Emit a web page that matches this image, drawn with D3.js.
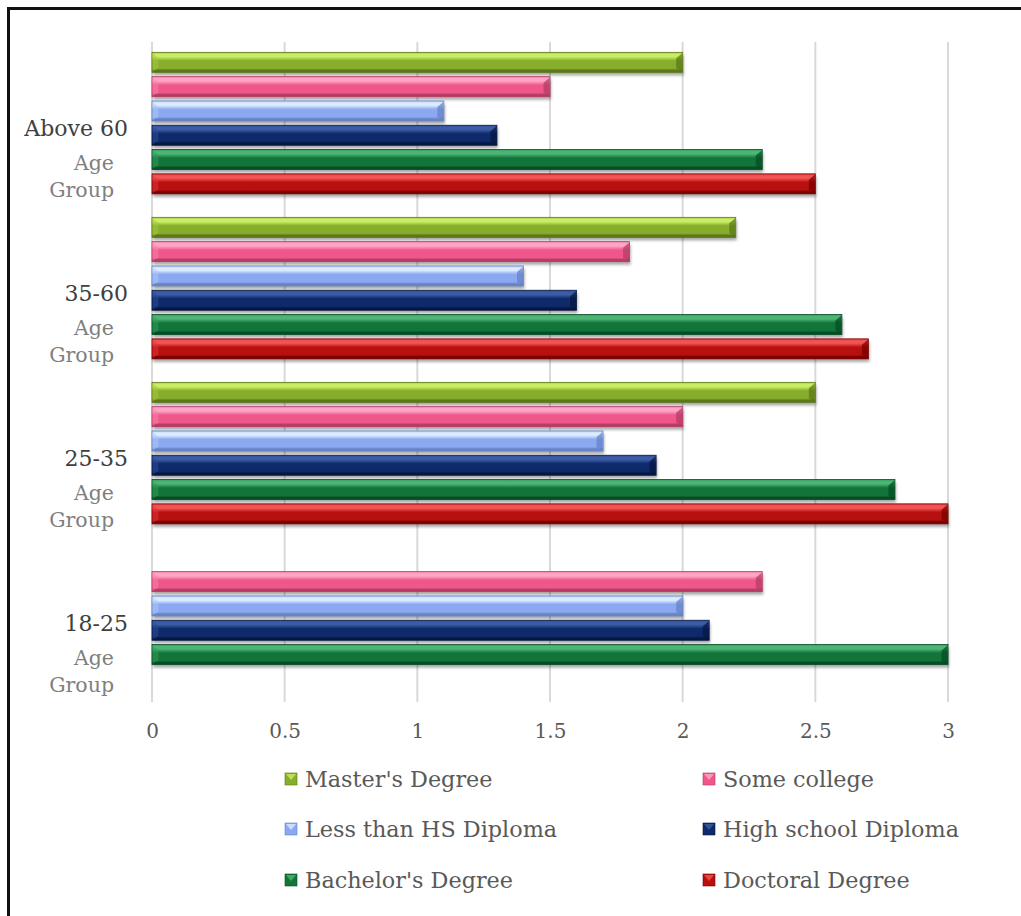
<!DOCTYPE html>
<html>
<head>
<meta charset="utf-8">
<script src="https://cdn.jsdelivr.net/npm/d3@7"></script>
<style>
  html, body { margin: 0; padding: 0; background: #fff; }
  svg { display: block; }
  text { font-family: "DejaVu Serif", "Liberation Serif", serif; }
</style>
</head>
<body>
<div id="chart"></div>
<script>
// Age groups, listed top to bottom
const ageGroups = ["Above 60", "35-60", "25-35", "18-25"];
const groupSuffix = ["Age", "Group"];

// Education levels (series), listed top to bottom inside each group
const seriesNames = [
  "Master's Degree",
  "Some college",
  "Less than HS Diploma",
  "High school Diploma",
  "Bachelor's Degree",
  "Doctoral Degree"
];

// Values per series, one per age group (null = no bar)
const mastersValues     = [2.0, 2.2, 2.5, null];
const someCollegeValues = [1.5, 1.8, 2.0, 2.3];
const lessThanHSValues  = [1.1, 1.4, 1.7, 2.0];
const highSchoolValues  = [1.3, 1.6, 1.9, 2.1];
const bachelorsValues   = [2.3, 2.6, 2.8, 3.0];
const doctoralValues    = [2.5, 2.7, 3.0, null];

const seriesValues = [
  mastersValues, someCollegeValues, lessThanHSValues,
  highSchoolValues, bachelorsValues, doctoralValues
];

const xTicks = [0, 0.5, 1, 1.5, 2, 2.5, 3];

// Bevel palette per series: rim, highlight, base, shade
const palette = [
  { rim: "#a2c83e", hi: "#c9ee64", base: "#87ad2d", dark: "#5c7818" },
  { rim: "#f77fa8", hi: "#ffa6c8", base: "#ef578a", dark: "#b53b64" },
  { rim: "#adc6f8", hi: "#dcebff", base: "#8aa9f0", dark: "#6683c8" },
  { rim: "#2a4b94", hi: "#3c5ca6", base: "#0e2a6b", dark: "#051842" },
  { rim: "#2f9a5a", hi: "#4cb576", base: "#137439", dark: "#054d25" },
  { rim: "#e23434", hi: "#f25454", base: "#b80f0f", dark: "#7a0000" }
];

const W = 1021, H = 916;
const svg = d3.select("#chart").append("svg")
  .attr("width", W).attr("height", H);

svg.append("rect").attr("width", W).attr("height", H).attr("fill", "#fff");

const defs = svg.append("defs");

// Soft drop shadow under the bars
defs.append("filter").attr("id", "barShadow")
  .attr("x", "-5%").attr("y", "-50%").attr("width", "110%").attr("height", "200%")
  .append("feGaussianBlur").attr("stdDeviation", 1.6);

palette.forEach((p, i) => {
  const g = defs.append("linearGradient").attr("id", "grad" + i)
    .attr("x1", 0).attr("y1", 0).attr("x2", 0).attr("y2", 1);
  [
    [0, p.rim], [0.1, p.hi], [0.22, p.hi], [0.42, p.base],
    [0.8, p.base], [0.9, p.dark], [1, p.dark]
  ].forEach(([o, c]) => g.append("stop").attr("offset", o).attr("stop-color", c));
});

// Frame around the chart
svg.append("rect")
  .attr("x", 8.5).attr("y", 8.5)
  .attr("width", W + 20).attr("height", H + 20)
  .attr("fill", "none").attr("stroke", "#111").attr("stroke-width", 3);

const plot = { left: 152, right: 948, top: 42, bottom: 702 };

const x = d3.scaleLinear().domain([0, 3]).range([plot.left, plot.right]);

const y0 = d3.scaleBand().domain(ageGroups)
  .range([plot.top, plot.bottom]).padding(0);

const y1 = d3.scaleBand().domain(d3.range(seriesNames.length))
  .range([0, y0.bandwidth()])
  .paddingInner(0.177).paddingOuter(0.483).align(0.44);

// Vertical gridlines
svg.append("g")
  .selectAll("line").data(xTicks).join("line")
  .attr("x1", d => x(d)).attr("x2", d => x(d))
  .attr("y1", plot.top).attr("y2", plot.bottom)
  .attr("stroke", "#d9d9d9").attr("stroke-width", 2);

// Bottom axis labels
const xAxis = svg.append("g")
  .attr("transform", `translate(0,${plot.bottom})`)
  .call(d3.axisBottom(x).tickValues(xTicks).tickSize(0).tickPadding(22)
    .tickFormat(d3.format("")));
xAxis.select(".domain").remove();
xAxis.selectAll("text")
  .attr("fill", "#595959")
  .style("font-size", "20px")
  .style("font-family", "'DejaVu Serif', serif");

// Bars
const barData = [];
ageGroups.forEach((grp, gi) => {
  seriesValues.forEach((vals, si) => {
    if (vals[gi] != null) barData.push({ grp, si, v: vals[gi] });
  });
});

const bars = svg.append("g").selectAll("g").data(barData).join("g")
  .attr("transform", d => `translate(0,${y0(d.grp) + y1(d.si)})`);

const bh = y1.bandwidth();

bars.append("rect")
  .attr("x", x(0) + 1).attr("y", 3)
  .attr("width", d => x(d.v) - x(0))
  .attr("height", bh)
  .attr("fill", "#000").attr("opacity", 0.35)
  .attr("filter", "url(#barShadow)");

bars.append("rect")
  .attr("x", x(0)).attr("y", 0)
  .attr("width", d => x(d.v) - x(0))
  .attr("height", bh)
  .attr("fill", d => `url(#grad${d.si})`)
  .attr("stroke", d => palette[d.si].dark)
  .attr("stroke-width", 0.8);

// Left bevel facet
bars.append("path")
  .attr("d", d => {
    const x0 = x(0) + 0.5;
    return `M${x0},${1}L${x0 + 6},${6}L${x0 + 6},${bh - 4}L${x0},${bh - 1}Z`;
  })
  .attr("fill", d => palette[d.si].rim).attr("opacity", 0.55);

// Right bevel facet
bars.append("path")
  .attr("d", d => {
    const x1 = x(d.v) - 0.5;
    return `M${x1},${1}L${x1 - 6},${6}L${x1 - 6},${bh - 4}L${x1},${bh - 1}Z`;
  })
  .attr("fill", d => palette[d.si].dark).attr("opacity", 0.75);

// Category labels: group name plus "Age Group"
const catLabels = svg.append("g").selectAll("g").data(ageGroups).join("g")
  .attr("transform", d => `translate(0,${y0(d) + y0.bandwidth() / 2})`);

catLabels.append("text")
  .attr("x", 128).attr("y", 4)
  .attr("text-anchor", "end").attr("dominant-baseline", "central")
  .attr("fill", "#404040").style("font-size", "22px")
  .text(d => d);

catLabels.selectAll("text.sub").data(groupSuffix).join("text")
  .attr("class", "sub")
  .attr("x", 114).attr("y", (d, i) => 38 + i * 27)
  .attr("text-anchor", "end").attr("dominant-baseline", "central")
  .attr("fill", "#7f7f7f").style("font-size", "20.5px")
  .text(d => d);

// Legend: two columns, three rows
const legendCols = [285, 703];
const legendRows = [779, 829, 880];
const legend = svg.append("g").selectAll("g").data(seriesNames).join("g")
  .attr("transform", (d, i) => `translate(${legendCols[i % 2]},${legendRows[Math.floor(i / 2)]})`);

legend.append("rect")
  .attr("x", 0).attr("y", -6).attr("width", 12).attr("height", 12)
  .attr("fill", (d, i) => palette[i].base)
  .attr("stroke", (d, i) => palette[i].dark).attr("stroke-width", 0.6);
legend.append("path")
  .attr("d", "M1,-5L11,-5L6,1Z")
  .attr("fill", (d, i) => palette[i].hi).attr("opacity", 0.8);

legend.append("text")
  .attr("x", 20).attr("y", 0)
  .attr("dominant-baseline", "central")
  .attr("fill", "#595959").style("font-size", "22.3px")
  .text(d => d);
</script>
</body>
</html>
